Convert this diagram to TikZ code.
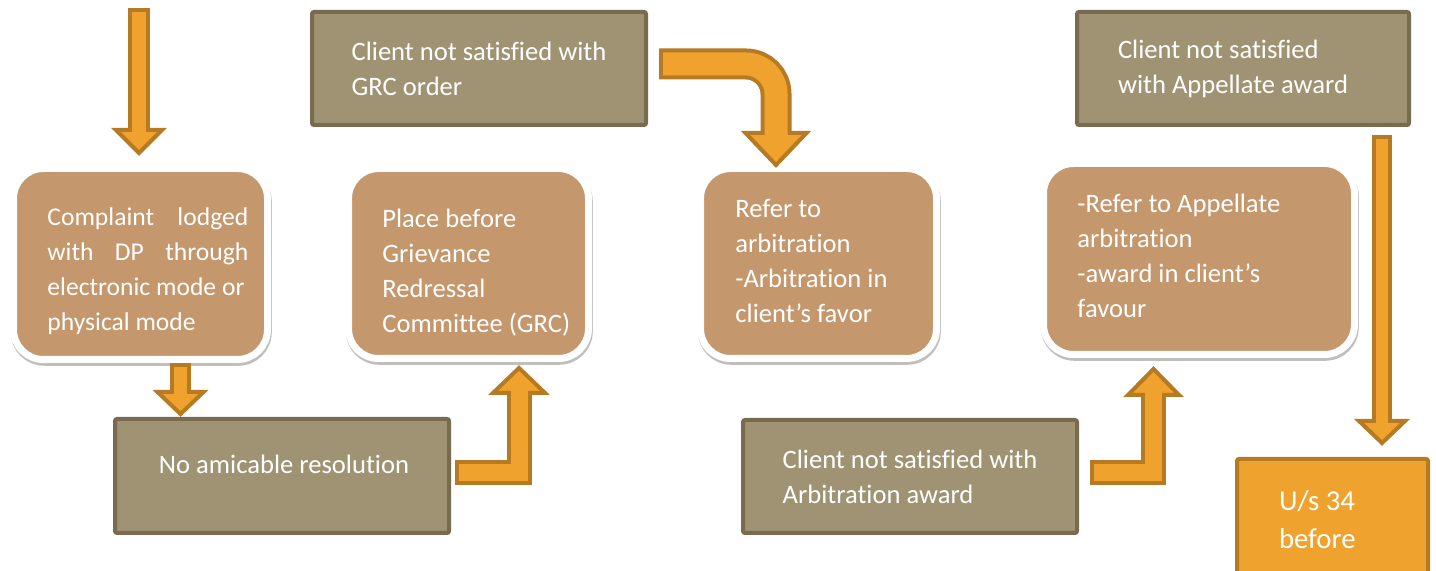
\documentclass[tikz,border=0pt]{standalone}
\usepackage{fontspec}
\setmainfont{Carlito}[Ligatures={TeX,CommonOff}]
\usetikzlibrary{calc,shadows}

\definecolor{cardfill}{HTML}{C4976C}
\definecolor{khakifill}{HTML}{A09373}
\definecolor{khakiedge}{HTML}{786B50}
\definecolor{arrfill}{HTML}{EFA22E}
\definecolor{arredge}{HTML}{B67A22}

\newcommand\cardfont{\fontsize{13.3}{17.5}\selectfont}
\newcommand\smallcardfont{\fontsize{12.8}{17.5}\selectfont}
\newcommand\bigfont{\fontsize{14.4}{19}\selectfont}

\tikzset{
  card/.style={rectangle, rounded corners=15pt, fill=cardfill, draw=white, line width=3.5pt,
    drop shadow={shadow xshift=0.4pt, shadow yshift=-1.4pt, opacity=0.25, fill=black, draw=black, line width=3.5pt}},
  cardtext/.style={anchor=west, inner sep=0pt, text=white, align=flush left, font=\cardfont},
  khaki/.style={rectangle, rounded corners=1pt, fill=khakifill, draw=khakiedge, line width=2pt,
    text=white, align=flush left, font=\cardfont},
  shaftout/.style={draw=arredge, line width=#1, line join=miter},
  shaftin/.style={draw=arrfill, line width=#1-4pt, line join=miter, shorten <=2pt, shorten >=-3pt},
  arrhead/.style={fill=arrfill, draw=arredge, line width=2pt, line join=miter}
}

% block arrow: [extra]{shaft width}{shaft path}{head base}{head tip}{head half width}
\newcommand\blockarrow[6][]{%
  \draw[shaftout=#2,#1] #3;
  \filldraw[arrhead] ($(#4)+(-#6,0)$) -- (#5) -- ($(#4)+(#6,0)$) -- cycle;
  \draw[shaftin=#2,#1] #3;
}

\begin{document}
\begin{tikzpicture}[x=0.5pt, y=-0.5pt]
  \path[use as bounding box, clip] (0,0) rectangle (1436,571);

  % rounded steps
  \node[card, minimum width=127pt, minimum height=95.5pt] (complaint) at (140.5,264) {};
  \node[cardtext, text width=100.5pt, font=\smallcardfont] (complainttext) at (47,271)
    {Complaint\hfill lodged\\ with\hfill DP\hfill through\\ \mbox{electronic mode or}\\ physical mode};
  \node[card, minimum width=120pt, minimum height=95pt] (place) at (468.5,263.5) {};
  \node[cardtext] (placetext) at (382,272.5) {Place before\\ Grievance\\ Redressal\\ Committee (GRC)};
  \node[card, minimum width=118pt, minimum height=95pt] (refer) at (818.5,263.5) {};
  \node[cardtext] (refertext) at (735,261) {Refer to\\ arbitration\\ -Arbitration in\\ client’s favor};
  \node[card, minimum width=155.5pt, minimum height=95.5pt] (appeal) at (1199,259) {};
  \node[cardtext] (appealtext) at (1077,255.5) {-Refer to Appellate\\ arbitration\\ -award in client’s\\ favour};

  % plain boxes
  \node[khaki, minimum width=167pt, minimum height=56.5pt] (grc) at (479,68.5)
    {Client not satisfied with\\ GRC order};
  \node[khaki, minimum width=167pt, minimum height=57pt] (noamic) at (282,476) {};
  \node[text=white, font=\cardfont] (noamictext) at (284,464) {No amicable resolution};
  \node[khaki, minimum width=167pt, minimum height=56.5pt] (arbaward) at (910,476.5)
    {Client not satisfied with\\ Arbitration award};
  \node[khaki, minimum width=166pt, minimum height=56.5pt, text width=125pt] (appaward) at (1243,68.5)
    {Client not satisfied\\ with Appellate award};
  \node[khaki, fill=arrfill, draw=arredge, minimum width=95.5pt, minimum height=60.5pt,
    text width=53.5pt, font=\bigfont] (us34) at (1332.5,519.5) {U/s 34\\ before};

  % arrows
  \coordinate (a1) at (139,8);      \coordinate (a2) at (139,130);     \coordinate (a3) at (139,153);
  \coordinate (b1) at (180.5,363);  \coordinate (b2) at (180.5,392);   \coordinate (b3) at (180.5,414);
  \coordinate (c1) at (455,472.5);  \coordinate (c2) at (519,472.5);   \coordinate (c3) at (519,393);
  \coordinate (c4) at (519,368);
  \coordinate (d1) at (659,64);     \coordinate (d2) at (776,64);      \coordinate (d3) at (776,133);
  \coordinate (d4) at (776,165);
  \coordinate (e1) at (1090,473);   \coordinate (e2) at (1153.5,473);  \coordinate (e3) at (1153.5,395);
  \coordinate (e4) at (1153.5,369);
  \coordinate (f1) at (1382,135);   \coordinate (f2) at (1382,421);    \coordinate (f3) at (1382,443);

  \blockarrow{11pt}{(a1) -- (a2)}{a2}{a3}{23}
  \blockarrow{10.5pt}{(b1) -- (b2)}{b2}{b3}{23}
  \blockarrow{12.5pt}{(c1) -- (c2) -- (c3)}{c3}{c4}{26}
  \blockarrow[rounded corners=15pt]{15.5pt}{(d1) -- (d2) -- (d3)}{d3}{d4}{30.5}
  \blockarrow{12.5pt}{(e1) -- (e2) -- (e3)}{e3}{e4}{25.5}
  \blockarrow{10pt}{(f1) -- (f2)}{f2}{f3}{23}
\end{tikzpicture}
\end{document}
